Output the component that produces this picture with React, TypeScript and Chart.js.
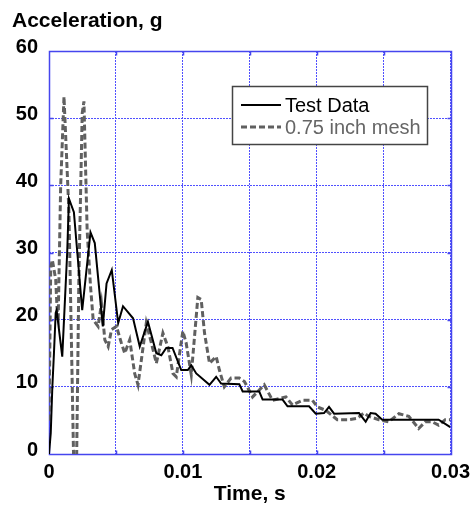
import React, { useEffect, useRef } from 'react';
import { Chart, registerables } from 'chart.js';

Chart.register(...registerables);

// ---- Data (time in seconds, acceleration in g) ----
const testTime = [
  0, 0.00013, 0.00025, 0.00037, 0.0005, 0.00057, 0.00099, 0.00136, 0.00149, 0.00186,
  0.00248, 0.0031, 0.00342, 0.00402, 0.0043, 0.00469, 0.00517, 0.00553, 0.00628, 0.00678,
  0.00739, 0.00802, 0.00839, 0.00876, 0.00923, 0.00988, 0.01037, 0.01063, 0.011, 0.01199,
  0.01249, 0.01286, 0.01422, 0.01447, 0.01571, 0.01596, 0.01745, 0.01782, 0.01943, 0.01993,
  0.02055, 0.02092, 0.0213, 0.02316, 0.02366, 0.02403, 0.0244, 0.0249, 0.02911, 0.02998,
];
const testAccel = [
  0, 3.1, 10, 15, 21, 21.4, 14.5, 30, 38, 36,
  21.4, 33, 31.4, 19, 25.4, 27.4, 19.5, 22, 20.2, 16,
  19.7, 15, 14.7, 15.8, 15.8, 12.5, 12.5, 13.2, 12, 10.3,
  11.5, 10.5, 10.4, 9.3, 9.3, 8.1, 8.1, 7.1, 7.1, 6.0,
  6.1, 7.0, 6.0, 6.1, 4.8, 6.1, 6.0, 5.1, 5.1, 4.0,
];

const meshTime = [
  0, 0.00013, 0.00025, 0.0005, 0.00062, 0.00069, 0.00087, 0.00112, 0.00149, 0.00173,
  0.00186, 0.00205, 0.00223, 0.00248, 0.00261, 0.00285, 0.0031, 0.0033, 0.00367, 0.00392,
  0.00417, 0.00442, 0.00467, 0.00504, 0.00541, 0.00566, 0.00603, 0.0064, 0.00665, 0.0069,
  0.00727, 0.00765, 0.00802, 0.00851, 0.00888, 0.00926, 0.00951, 0.01, 0.01025, 0.01063,
  0.01112, 0.01137, 0.01162, 0.01199, 0.01249, 0.01273, 0.0131, 0.0136, 0.01422, 0.0146,
  0.01521, 0.01608, 0.0167, 0.0177, 0.01819, 0.01894, 0.01968, 0.02005, 0.02068, 0.02154,
  0.02241, 0.02303, 0.02353, 0.0239, 0.02465, 0.02539, 0.02614, 0.02688, 0.02762, 0.02812,
  0.02861, 0.02911, 0.0296, 0.02998,
];
const meshAccel = [
  5, 27.9, 28.9, 26, 21, 20.4, 39.8, 53.2, 36, 11,
  -3, -3, 26, 50.7, 52.5, 33.3, 25, 20, 19, 22.4,
  17, 16, 18.5, 19, 16.5, 15, 17, 12, 10.3, 14,
  19.5, 16.5, 13.5, 18, 16, 12, 11.5, 18.3, 16.5, 11.8,
  23.3, 23, 18, 13.5, 14.5, 12.5, 10, 11.3, 11.3, 10.8,
  8.5, 10.3, 8, 8.5, 7.3, 8, 8, 7, 6.5, 5.1,
  5.1, 5.3, 6.1, 5.6, 5.1, 4.8, 6.0, 5.6, 3.8, 4.8,
  4.8, 4.3, 5.1, 5.1,
];

const seriesNames = ['Test Data', '0.75 inch mesh'];
const xTickValues = [0, 0.005, 0.01, 0.015, 0.02, 0.025, 0.03];
const xTickLabels = ['0', '', '0.01', '', '0.02', '', '0.03'];
const yTickValues = [0, 10, 20, 30, 40, 50, 60];
const yTickLabels = ['0', '10', '20', '30', '40', '50', '60'];
const yAxisTitle = 'Acceleration, g';
const xAxisTitle = 'Time, s';

const FONT = "'Liberation Sans', Arial, sans-serif";
const BLUE = '#4646ee';
const GRID = '#5050ff';

const framePlugin = {
  id: 'frame',
  beforeDatasetsDraw(chart: any) {
    const { ctx, chartArea: a, scales } = chart;
    ctx.save();
    ctx.strokeStyle = BLUE;
    ctx.lineWidth = 1.5;
    ctx.setLineDash([]);
    ctx.beginPath();
    const L = Math.round(a.left) + 0.5, R = Math.round(a.right) + 0.5;
    const T = Math.round(a.top) + 0.5, B = Math.round(a.bottom) + 0.5;
    ctx.rect(L, T, R - L, B - T);
    const tl = 4;
    xTickValues.forEach((v) => {
      const px = Math.round(scales.x.getPixelForValue(v)) + 0.5;
      ctx.moveTo(px, T); ctx.lineTo(px, T + tl);
      ctx.moveTo(px, B); ctx.lineTo(px, B - tl);
    });
    yTickValues.forEach((v) => {
      const py = Math.round(scales.y.getPixelForValue(v)) + 0.5;
      ctx.moveTo(L, py); ctx.lineTo(L + tl, py);
      ctx.moveTo(R, py); ctx.lineTo(R - tl, py);
    });
    ctx.stroke();
    ctx.restore();
  },
  afterDraw(chart: any) {
    const { ctx } = chart;
    ctx.save();
    ctx.fillStyle = '#000';
    ctx.font = `bold 21px ${FONT}`;
    ctx.textAlign = 'left';
    ctx.textBaseline = 'alphabetic';
    ctx.fillText(yAxisTitle, 12, 27);

    const bx = 232.5, by = 86.5, bw = 195, bh = 58;
    ctx.fillStyle = '#fff';
    ctx.fillRect(bx, by, bw, bh);
    ctx.strokeStyle = '#444';
    ctx.lineWidth = 1.5;
    ctx.strokeRect(bx, by, bw, bh);

    const ds = chart.data.datasets;
    const rows = [105, 127];
    ds.forEach((d: any, i: number) => {
      const y = rows[i];
      ctx.beginPath();
      ctx.strokeStyle = d.borderColor;
      ctx.lineWidth = d.borderWidth;
      ctx.setLineDash(d.borderDash || []);
      ctx.moveTo(241, y);
      ctx.lineTo(281, y);
      ctx.stroke();
      ctx.setLineDash([]);
      ctx.fillStyle = i === 0 ? '#000' : '#666';
      ctx.font = `20px ${FONT}`;
      ctx.textBaseline = 'middle';
      ctx.fillText(d.label, 285, y + 1);
    });
    ctx.restore();
  },
};

export default function App() {
  const ref = useRef<HTMLCanvasElement | null>(null);

  useEffect(() => {
    if (!ref.current) return;
    const chart = new Chart(ref.current, {
      type: 'line',
      data: {
        datasets: [
          {
            label: seriesNames[0],
            data: testTime.map((t, i) => ({ x: t, y: testAccel[i] })),
            borderColor: '#000',
            borderWidth: 2,
            pointRadius: 0,
            tension: 0,
            fill: false,
            order: 1,
          },
          {
            label: seriesNames[1],
            data: meshTime.map((t, i) => ({ x: t, y: meshAccel[i] })),
            borderColor: '#606060',
            borderWidth: 3,
            borderDash: [6, 3],
            pointRadius: 0,
            tension: 0,
            fill: false,
            order: 2,
          },
        ],
      },
      options: {
        animation: false,
        responsive: false,
        devicePixelRatio: 1,
        layout: { padding: { top: 51, right: 24, left: 0, bottom: 0 } },
        plugins: { legend: { display: false }, tooltip: { enabled: false }, title: { display: false } },
        scales: {
          x: {
            type: 'linear',
            min: 0,
            max: 0.03,
            afterBuildTicks: (s: any) => { s.ticks = xTickValues.map((v) => ({ value: v })); },
            afterFit: (s: any) => { s.height = 54; },
            ticks: {
              autoSkip: false,
              maxRotation: 0,
              padding: 6,
              color: '#000',
              font: { family: FONT, size: 20, weight: 'bold' },
              callback: (_v: any, i: number) => xTickLabels[i],
            },
            grid: { color: GRID, lineWidth: 1, drawTicks: false },
            border: { display: false, dash: [2, 1] },
            title: {
              display: true,
              text: xAxisTitle,
              color: '#000',
              font: { family: FONT, size: 21, weight: 'bold' },
              padding: { top: 0, bottom: 1 },
            },
          },
          y: {
            type: 'linear',
            min: 0,
            max: 60,
            afterBuildTicks: (s: any) => { s.ticks = yTickValues.map((v) => ({ value: v })); },
            afterFit: (s: any) => { s.width = 49; },
            ticks: {
              autoSkip: false,
              padding: 11,
              labelOffset: -4,
              color: '#000',
              font: { family: FONT, size: 20, weight: 'bold' },
              callback: (_v: any, i: number) => yTickLabels[i],
            },
            grid: { color: GRID, lineWidth: 1, drawTicks: false },
            border: { display: false, dash: [2, 1] },
          },
        },
      },
      plugins: [framePlugin],
    } as any);
    return () => chart.destroy();
  }, []);

  return (
    <div style={{ position: 'absolute', left: 0, top: 0, width: 476, height: 508, background: '#fff' }}>
      <canvas ref={ref} width={476} height={508} style={{ display: 'block' }} />
    </div>
  );
}
